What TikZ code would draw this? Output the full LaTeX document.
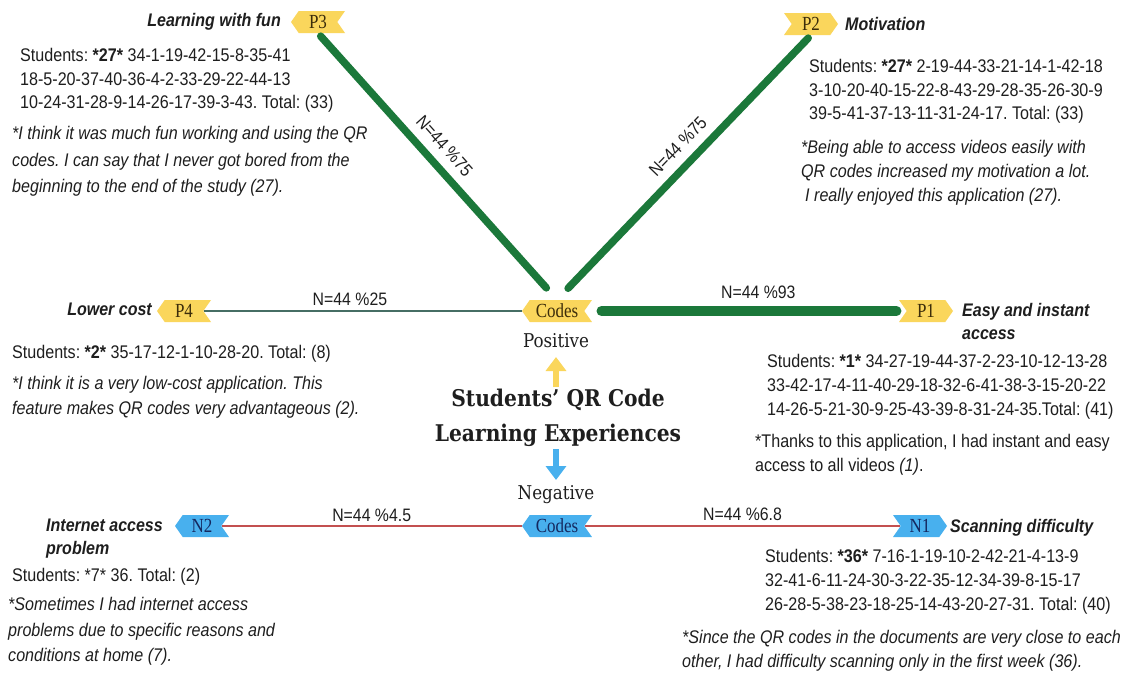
\documentclass[tikz,border=0pt]{standalone}
\usepackage{fontspec}
\setmainfont{Liberation Sans}[FakeStretch=0.88]
\newfontfamily\headserif{DejaVu Serif}[FakeStretch=0.88]
\newfontfamily\tagserif{Liberation Serif}[FakeStretch=0.85]
\usetikzlibrary{shapes.symbols,arrows.meta}

\definecolor{tagyellow}{RGB}{250,214,92}
\definecolor{tagblue}{RGB}{72,176,238}
\definecolor{ytext}{RGB}{60,45,10}
\definecolor{btext}{RGB}{20,40,95}
\definecolor{posgreen}{RGB}{27,120,58}
\definecolor{lowteal}{RGB}{70,110,100}
\definecolor{negred}{RGB}{195,80,80}
\definecolor{ink}{RGB}{30,30,30}

\tikzset{
  tagbase/.style={signal, signal pointer angle=110, minimum height=22pt,
    minimum width=54pt, inner xsep=6pt, inner ysep=0pt,
    font=\tagserif\fontsize{20}{20}\selectfont},
  ptagL/.style={tagbase, fill=tagyellow, text=ytext, signal to=west, signal from=east},
  ptagR/.style={tagbase, fill=tagyellow, text=ytext, signal to=east, signal from=west},
  ntagL/.style={tagbase, fill=tagblue, text=btext, signal to=west, signal from=east},
  ntagR/.style={tagbase, fill=tagblue, text=btext, signal to=east, signal from=west},
  head/.style={font=\fontsize{18.2}{23}\selectfont\bfseries\itshape, text=ink,
    align=left, inner sep=0pt},
  body/.style={font=\fontsize{18.3}{#1}\selectfont, text=ink, align=left,
    inner sep=0pt, anchor=north west},
  body/.default=24,
  quote/.style={font=\fontsize{18.3}{#1}\selectfont\itshape, text=ink, align=left,
    inner sep=0pt, anchor=north west},
  quote/.default=24,
  nlabel/.style={font=\fontsize{18}{18}\selectfont, text=ink, inner sep=2pt},
  thickgreen/.style={draw=posgreen, line width=7.5pt, line cap=round},
  serifcap/.style={font=\headserif\fontsize{19}{19}\selectfont, text=ink, inner sep=0pt},
}

\begin{document}
\frenchspacing
\begin{tikzpicture}[x=1pt,y=-1pt]
\useasboundingbox[fill=white] (0,0) rectangle (1124,675);

% central title
\node[font=\headserif\bfseries\fontsize{23}{35}\selectfont, text=ink, align=center]
  (title) at (558,418) {Students’ QR Code\\Learning Experiences};

% positive branch hub
\node[ptagL] (codesP) at (557,311) {Codes};
\node[serifcap] (pos) at (556,341) {Positive};
\node[ptagL] (P3) at (318,22) {P3};
\node[ptagR] (P2) at (811,24) {P2};
\node[ptagL] (P4) at (184,311) {P4};
\node[ptagR] (P1) at (926,311) {P1};

% negative branch hub
\node[serifcap] (neg) at (556,495) {Negative};
\node[ntagL] (codesN) at (557,526) {Codes};
\node[ntagL] (N2) at (202,526) {N2};
\node[ntagR] (N1) at (920,526) {N1};

% arrows from the title
\coordinate (yA) at (556,387);
\coordinate (yB) at (556,357);
\draw[draw=tagyellow, line width=6pt, -{Triangle[width=20pt,length=14pt]}] (yA) -- (yB);
\coordinate (bA) at (556,449);
\coordinate (bB) at (556,480);
\draw[draw=tagblue, line width=6pt, -{Triangle[width=20pt,length=14pt]}] (bA) -- (bB);

% positive connectors
\draw[thickgreen, shorten <=4pt, shorten >=16pt] (P3.south) -- (codesP.north)
  node[nlabel, pos=0.47, sloped, above=7pt] {N=44 \%75};
\draw[thickgreen, shorten <=4pt, shorten >=16pt] (P2.south) -- (codesP.north)
  node[nlabel, pos=0.47, sloped, above=7pt] {N=44 \%75};
\draw[draw=lowteal, line width=1.2pt] (P4.east) -- (codesP.west)
  node[nlabel, pos=0.46, above=3pt] {N=44 \%25};
\draw[draw=posgreen, line width=10pt, line cap=round, shorten <=17pt, shorten >=10pt]
  (codesP.east) -- (P1.west) node[nlabel, pos=0.54, above=5pt] {N=44 \%93};

% negative connectors
\draw[draw=negred, line width=1.2pt] (N2.east) -- (codesN.west)
  node[nlabel, pos=0.5, above=2pt] {N=44 \%4.5};
\draw[draw=negred, line width=1.8pt] (codesN.east) -- (N1.west)
  node[nlabel, pos=0.5, above=2pt] {N=44 \%6.8};

% P3: learning with fun
\node[head, anchor=east] (h3) at (281,22) {Learning with fun};
\node[body=23.5] (s3) at (20,48.5) {Students: \textbf{*27*} 34-1-19-42-15-8-35-41\\
  18-5-20-37-40-36-4-2-33-29-22-44-13\\
  10-24-31-28-9-14-26-17-39-3-43. Total: (33)};
\node[quote=26.5] (q3) at (12,126.5) {*I think it was much fun working and using the QR\\
  codes. I can say that I never got bored from the\\
  beginning to the end of the study (27).};

% P2: motivation
\node[head, anchor=west] (h2) at (845,24) {Motivation};
\node[body=23.5] (s2) at (809,59.5) {Students: \textbf{*27*} 2-19-44-33-21-14-1-42-18\\
  3-10-20-40-15-22-8-43-29-28-35-26-30-9\\
  39-5-41-37-13-11-31-24-17. Total: (33)};
\node[quote=24] (q2) at (801,140.5) {*Being able to access videos easily with\\
  QR codes increased my motivation a lot.\\
  \hspace*{4pt}I really enjoyed this application (27).};

% P4: lower cost
\node[head, anchor=east] (h4) at (152,309) {Lower cost};
\node[body] (s4) at (12,345.5) {Students: \textbf{*2*} 35-17-12-1-10-28-20. Total: (8)};
\node[quote=25] (q4) at (12,376.5) {*I think it is a very low-cost application. This\\
  feature makes QR codes very advantageous (2).};

% P1: easy and instant access
\node[head, anchor=north west] (h1) at (962,303.5) {Easy and instant\\access};
\node[body=24] (s1) at (767,354.5) {Students: \textbf{*1*} 34-27-19-44-37-2-23-10-12-13-28\\
  33-42-17-4-11-40-29-18-32-6-41-38-3-15-20-22\\
  14-26-5-21-30-9-25-43-39-8-31-24-35.Total: (41)};
\node[body=24] (q1) at (755,434.5) {*Thanks to this application, I had instant and easy\\
  access to all videos \textit{(1)}.};

% N2: internet access problem
\node[head, anchor=north west] (hn2) at (46,518.5) {Internet access\\problem};
\node[body] (sn2) at (12,568.5) {Students: *7* 36. Total: (2)};
\node[quote=25.5] (qn2) at (8,597.5) {*Sometimes I had internet access\\
  problems due to specific reasons and\\
  conditions at home (7).};

% N1: scanning difficulty
\node[head, anchor=west] (hn1) at (950,528) {Scanning difficulty};
\node[body=24] (sn1) at (765,549.5) {Students: \textbf{*36*} 7-16-1-19-10-2-42-21-4-13-9\\
  32-41-6-11-24-30-3-22-35-12-34-39-8-15-17\\
  26-28-5-38-23-18-25-14-43-20-27-31. Total: (40)};
\node[quote=24] (qn1) at (682,630.5) {*Since the QR codes in the documents are very close to each\\
  other, I had difficulty scanning only in the first week (36).};
\end{tikzpicture}
\end{document}
